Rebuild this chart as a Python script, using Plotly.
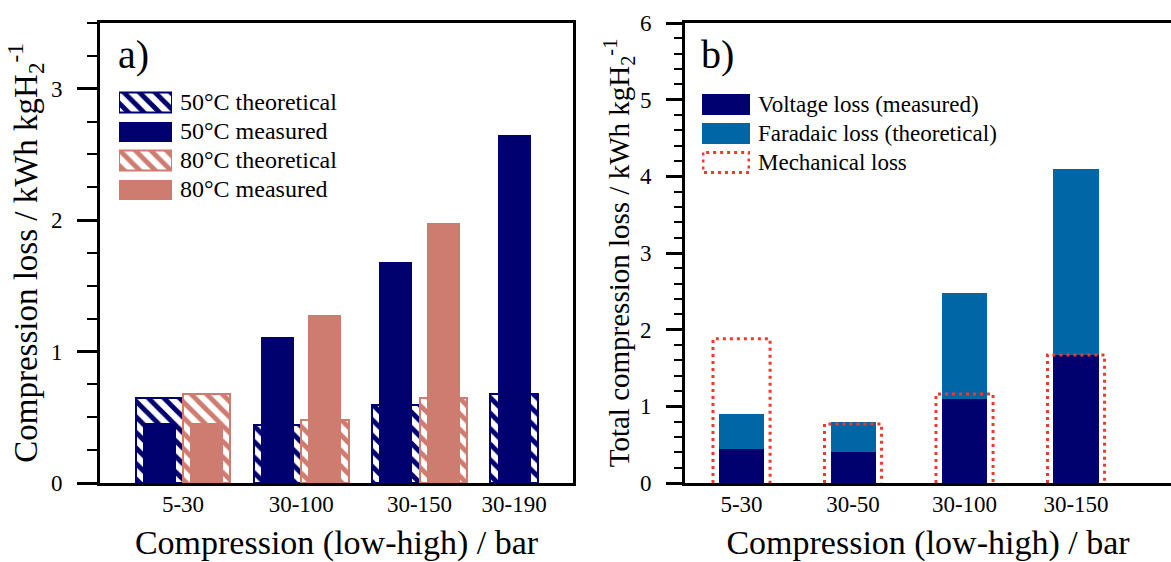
import plotly.graph_objects as go

# ---------------- data ----------------
# panel a)
cats_a = ["5-30", "30-100", "30-150", "30-190"]
theo_50 = [0.65, 0.44, 0.59, 0.68]
meas_50 = [0.46, 1.11, 1.68, 2.65]
theo_80 = [0.68, 0.48, 0.65, None]
meas_80 = [0.46, 1.28, 1.98, None]
legend_a = ["50°C theoretical", "50°C measured", "80°C theoretical", "80°C measured"]

# panel b)
cats_b = ["5-30", "30-50", "30-100", "30-150"]
voltage = [0.44, 0.40, 1.10, 1.67]
faradaic = [0.46, 0.39, 1.38, 2.42]
mechanical = [1.88, 0.77, 1.16, 1.67]
legend_b = ["Voltage loss (measured)", "Faradaic loss (theoretical)", "Mechanical loss"]

# ---------------- style ----------------
W, H = 1171, 562
NAVY = "#00006E"
SALMON = "#CF7C70"
BLUE = "#0066A6"
RED = "#EE3A2C"
FONT = "Liberation Serif"


def px(x):
    return x / W


def py(y):
    return 1 - y / H


fig = go.Figure()

# ---------------- panel a bars ----------------
THEO_W, MEAS_W = 0.40, 0.28
xa = list(range(len(cats_a)))


def hatched(color):
    return dict(color="white", line=dict(color=color, width=2),
                pattern=dict(shape="\\", fgcolor=color, bgcolor="white",
                             size=11, solidity=0.45))


series_a = [
    (theo_50, True, NAVY, -THEO_W),
    (theo_80, True, SALMON, 0.0),
    (meas_50, False, NAVY, -THEO_W + (THEO_W - MEAS_W) / 2),
    (meas_80, False, SALMON, (THEO_W - MEAS_W) / 2),
]
for vals, is_theo, col, off in series_a:
    if is_theo:
        marker = hatched(col)
        w = THEO_W
    else:
        marker = dict(color=col, line=dict(width=0))
        w = MEAS_W
    fig.add_trace(go.Bar(x=xa, y=vals, width=w, offset=off, marker=marker,
                         xaxis="x", yaxis="y", showlegend=False,
                         hoverinfo="y"))

# tick position of each group: mean of the centres of the series present
tick_a = []
for i in xa:
    cs = []
    if theo_50[i] is not None:
        cs.append(-THEO_W / 2)
    if theo_80[i] is not None:
        cs.append(THEO_W / 2)
    tick_a.append(i + sum(cs) / len(cs))

# ---------------- panel b bars ----------------
BAR_W, MECH_W = 0.404, 0.512
xb = list(range(len(cats_b)))
fig.add_trace(go.Bar(x=xb, y=voltage, width=BAR_W, marker=dict(color=NAVY, line=dict(width=0)),
                     xaxis="x2", yaxis="y2", showlegend=False))
fig.add_trace(go.Bar(x=xb, y=faradaic, base=voltage, width=BAR_W,
                     marker=dict(color=BLUE, line=dict(width=0)),
                     xaxis="x2", yaxis="y2", showlegend=False))
mx, my = [], []
for i, m in zip(xb, mechanical):
    mx += [i - MECH_W / 2, i - MECH_W / 2, i + MECH_W / 2, i + MECH_W / 2, None]
    my += [0, m, m, 0, None]
fig.add_trace(go.Scatter(x=mx, y=my, mode="lines",
                         line=dict(color=RED, width=3, dash="3px,4px"),
                         xaxis="x2", yaxis="y2", showlegend=False, hoverinfo="skip"))

# ---------------- custom legends (auxiliary axes) ----------------
SW_H = 0.69
for k, lab in enumerate(legend_a):
    col = NAVY if k < 2 else SALMON
    marker = hatched(col) if k % 2 == 0 else dict(color=col, line=dict(width=0))
    fig.add_trace(go.Bar(x=[1], y=[k], base=0, orientation="h", width=SW_H,
                         marker=marker, xaxis="x3", yaxis="y3",
                         showlegend=False, hoverinfo="skip"))
fig.add_trace(go.Bar(x=[1, 1], y=[0, 1], base=0, orientation="h", width=SW_H,
                     marker=dict(color=[NAVY, BLUE], line=dict(width=0)),
                     xaxis="x4", yaxis="y4", showlegend=False, hoverinfo="skip"))
fig.add_trace(go.Scatter(x=[0.02, 0.02, 0.98, 0.98, 0.02],
                         y=[2 - SW_H / 2, 2 + SW_H / 2, 2 + SW_H / 2, 2 - SW_H / 2, 2 - SW_H / 2],
                         mode="lines", line=dict(color=RED, width=3, dash="3px,4px"),
                         xaxis="x4", yaxis="y4", showlegend=False, hoverinfo="skip"))

annotations = []
rows_a = [102, 131, 160, 189]
for lab, yy in zip(legend_a, rows_a):
    annotations.append(dict(text=lab, x=px(178), y=py(yy), xref="paper", yref="paper",
                            xanchor="left", yanchor="middle", showarrow=False,
                            font=dict(family=FONT, size=24, color="black")))
rows_b = [104.5, 133.5, 162.5]
for lab, yy in zip(legend_b, rows_b):
    annotations.append(dict(text=lab, x=px(756), y=py(yy), xref="paper", yref="paper",
                            xanchor="left", yanchor="middle", showarrow=False,
                            font=dict(family=FONT, size=23, color="black")))
annotations.append(dict(text="a)", x=px(116), y=py(54), xref="paper", yref="paper",
                        xanchor="left", yanchor="middle", showarrow=False,
                        font=dict(family=FONT, size=40, color="black")))
annotations.append(dict(text="b)", x=px(699), y=py(54), xref="paper", yref="paper",
                        xanchor="left", yanchor="middle", showarrow=False,
                        font=dict(family=FONT, size=40, color="black")))

tickfont = dict(family=FONT, size=23, color="black")
Y_DOM = [py(483), py(23)]

fig.update_layout(
    template="none",
    width=W, height=H, margin=dict(l=0, r=0, t=0, b=0, pad=0, autoexpand=False),
    paper_bgcolor="white", plot_bgcolor="white",
    barmode="overlay", bargap=0, showlegend=False,
    annotations=annotations,
    xaxis=dict(domain=[px(100), px(573)], range=[-0.702, 3.298], automargin=False,
               tickvals=tick_a, ticktext=cats_a, ticks="", tickfont=tickfont,
               ticklabelstandoff=-2,
               showline=True, linewidth=3, linecolor="black", mirror=True,
               showgrid=False, zeroline=False, anchor="y",
               title=dict(text="Compression (low-high) / bar",
                          font=dict(family=FONT, size=34, color="black"), standoff=20)),
    yaxis=dict(domain=Y_DOM, range=[0, 3.5], tickvals=[0, 1, 2, 3], automargin=False,
               ticks="outside", ticklen=20, tickwidth=3, tickcolor="black",
               minor=dict(dtick=0.25, ticks="outside", ticklen=10, tickwidth=2, tickcolor="black",
                          showgrid=False),
               tickfont=tickfont, ticklabelstandoff=10,
               showline=True, linewidth=3, linecolor="black", mirror=True,
               showgrid=False, zeroline=False, anchor="x",
               title=dict(text="Compression loss / kWh kgH<sub>2</sub><sup>-1</sup>",
                          font=dict(family=FONT, size=33, color="black"), standoff=4)),
    xaxis2=dict(domain=[px(685), 1.0], range=[-0.507, 3.852], automargin=False,
                tickvals=xb, ticktext=cats_b, ticks="", tickfont=tickfont,
                ticklabelstandoff=-2,
                showline=True, linewidth=3, linecolor="black", mirror=True,
                showgrid=False, zeroline=False, anchor="y2",
                title=dict(text="Compression (low-high) / bar",
                           font=dict(family=FONT, size=34, color="black"), standoff=20)),
    yaxis2=dict(domain=Y_DOM, range=[0, 6], tickvals=[0, 1, 2, 3, 4, 5, 6], automargin=False,
                ticks="outside", ticklen=16, tickwidth=3, tickcolor="black",
                minor=dict(dtick=0.2, ticks="outside", ticklen=8, tickwidth=2, tickcolor="black",
                           showgrid=False),
                tickfont=tickfont, ticklabelstandoff=10,
                showline=True, linewidth=3, linecolor="black", mirror=False,
                showgrid=False, zeroline=False, anchor="x2",
                title=dict(text="Total compression loss / kWh kgH<sub>2</sub><sup>-1</sup>",
                           font=dict(family=FONT, size=29, color="black"), standoff=2)),
    xaxis3=dict(domain=[px(119), px(172)], range=[0, 1], visible=False, fixedrange=True,
                anchor="y3"),
    yaxis3=dict(domain=[py(rows_a[-1] + 14.5), py(rows_a[0] - 14.5)], range=[3.5, -0.5],
                visible=False, fixedrange=True, anchor="x3"),
    xaxis4=dict(domain=[px(702), px(750)], range=[0, 1], visible=False, fixedrange=True,
                anchor="y4"),
    yaxis4=dict(domain=[py(rows_b[-1] + 14.5), py(rows_b[0] - 14.5)], range=[2.5, -0.5],
                visible=False, fixedrange=True, anchor="x4"),
)

fig.write_html("out.html")
